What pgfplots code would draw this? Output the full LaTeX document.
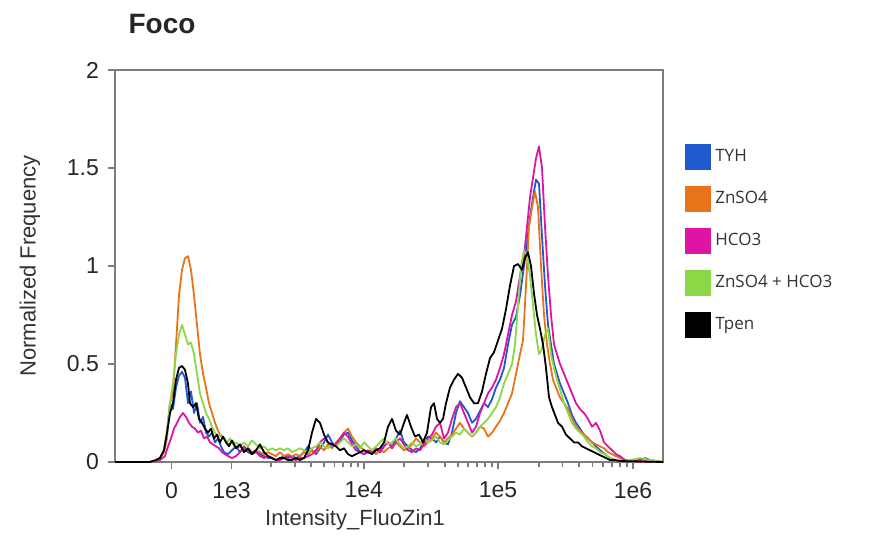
\documentclass[border=0pt]{standalone}
\usepackage{pgfplots}
\pgfplotsset{compat=1.18}
\usepackage{fontspec}
\setmainfont{Liberation Sans}
\newfontfamily\legfont{Open Sans}
\definecolor{cTYH}{RGB}{30,90,205}
\definecolor{cZn}{RGB}{232,115,25}
\definecolor{cHCO}{RGB}{222,20,165}
\definecolor{cGreen}{RGB}{140,215,70}
\definecolor{axgray}{RGB}{125,125,125}
\begin{document}
\begin{tikzpicture}
\useasboundingbox (0,0) rectangle (435pt,271pt);
\node[font=\fontsize{14}{16}\selectfont\bfseries, text=black!85] at (81pt,259pt) {Foco};
\begin{axis}[
  at={(57.5pt,40pt)}, anchor=south west,
  scale only axis, width=274pt, height=196pt,
  xmin=115, xmax=663, ymin=0, ymax=2,
  axis line style={axgray, line width=1pt},
  tick style={axgray, line width=0.9pt},
  tick align=outside,
  xtick pos=lower, ytick pos=left,
  major tick length=3.5pt, minor tick length=2.5pt,
  xtick={171.5,231.5,363.7,498,633},
  xticklabels={0,1e3,1e4,1e5,1e6},
  minor xtick={271.3,294.6,311.1,323.9,334.4,343.2,350.9,357.6,404.1,427.8,444.6,457.6,468.2,477.2,485.0,491.9,538.6,562.4,579.3,592.4,603.0,612.1,619.9,626.8},
  ytick={0,0.5,1,1.5,2},
  yticklabels={0,0.5,1,1.5,2},
  ticklabel style={font=\fontsize{11.5}{13}\selectfont, text=black!85},
  xticklabel style={yshift=-3pt},
  yticklabel style={xshift=-1pt},
  xlabel={Intensity\_FluoZin1},
  ylabel={Normalized Frequency},
  label style={font=\fontsize{11}{13}\selectfont, text=black!80},
  xlabel style={at={(axis description cs:0.438,-0.148)}, anchor=center},
  ylabel style={at={(axis description cs:-0.155,0.5)}, anchor=center},
  legend style={at={(axis description cs:1.04,0.812)}, anchor=north west, draw=none, fill=none,
    font=\legfont\fontsize{8.5}{10}\selectfont, text=black!80, row sep=8pt, inner sep=0pt},
  legend cell align=left,
  legend image code/.code={\fill[#1,draw=none] (0pt,-6.5pt) rectangle (13pt,6.5pt);},
  every axis plot/.append style={line width=0.9pt, line join=round},
]
% TYH
\addplot[color=cTYH] coordinates {
(115,0)(150,0)(156,0.01)(160,0.02)(164,0.06)(167,0.15)(170,0.3)(173,0.27)(176,0.38)(179,0.44)(182,0.46)(185,0.43)(188,0.3)(191,0.36)(194,0.25)(197,0.3)(200,0.2)(203,0.23)(206,0.15)(209,0.13)(212,0.15)(215,0.1)(218,0.12)(221,0.08)(224,0.05)(228,0.04)(232,0.06)(236,0.08)(240,0.05)(244,0.07)(248,0.05)(252,0.04)(256,0.06)(260,0.04)(264,0.03)(268,0.02)(272,0.02)(276,0.01)(280,0.02)(284,0.03)(288,0.02)(292,0.03)(296,0.02)(300,0.03)(304,0.05)(308,0.08)(312,0.06)(316,0.04)(320,0.07)(324,0.1)(328,0.14)(332,0.1)(336,0.08)(340,0.11)(344,0.14)(348,0.15)(352,0.11)(356,0.08)(360,0.05)(364,0.04)(368,0.05)(372,0.06)(376,0.07)(380,0.05)(384,0.08)(388,0.1)(392,0.08)(396,0.12)(400,0.16)(404,0.1)(408,0.08)(412,0.06)(416,0.05)(420,0.07)(424,0.1)(428,0.13)(432,0.12)(436,0.1)(440,0.13)(444,0.1)(448,0.09)(452,0.15)(456,0.25)(460,0.31)(464,0.28)(468,0.25)(472,0.2)(476,0.22)(480,0.26)(484,0.3)(488,0.28)(492,0.32)(496,0.38)(500,0.42)(504,0.48)(508,0.6)(512,0.7)(516,0.74)(520,0.85)(524,1.0)(527,1.12)(530,1.25)(533,1.35)(536,1.44)(539,1.42)(542,1.15)(545,0.9)(548,0.7)(551,0.6)(554,0.5)(557,0.45)(560,0.4)(564,0.35)(568,0.3)(572,0.24)(576,0.2)(580,0.17)(584,0.14)(588,0.12)(592,0.1)(596,0.08)(600,0.06)(605,0.04)(610,0.02)(615,0.01)(620,0.005)(640,0.01)(645,0.02)(650,0.01)(663,0)
};
\addlegendentry{TYH}
% ZnSO4
\addplot[color=cZn] coordinates {
(115,0)(150,0)(156,0.01)(160,0.02)(164,0.05)(167,0.12)(170,0.3)(173,0.35)(176,0.6)(179,0.85)(182,0.98)(185,1.04)(188,1.05)(191,0.98)(194,0.85)(197,0.7)(200,0.55)(203,0.45)(206,0.38)(209,0.3)(212,0.25)(215,0.2)(218,0.16)(221,0.13)(224,0.12)(228,0.09)(232,0.1)(236,0.07)(240,0.08)(244,0.06)(248,0.07)(252,0.05)(256,0.06)(260,0.05)(264,0.04)(268,0.05)(272,0.04)(276,0.03)(280,0.05)(284,0.03)(288,0.04)(292,0.03)(296,0.04)(300,0.03)(304,0.05)(308,0.04)(312,0.06)(316,0.05)(320,0.08)(324,0.06)(328,0.09)(332,0.07)(336,0.1)(340,0.12)(344,0.15)(348,0.17)(352,0.13)(356,0.1)(360,0.08)(364,0.06)(368,0.05)(372,0.06)(376,0.04)(380,0.06)(384,0.05)(388,0.07)(392,0.08)(396,0.1)(400,0.08)(404,0.06)(408,0.07)(412,0.09)(416,0.12)(420,0.1)(424,0.08)(428,0.1)(432,0.12)(436,0.15)(440,0.13)(444,0.1)(448,0.12)(452,0.14)(456,0.17)(460,0.2)(464,0.17)(468,0.15)(472,0.13)(476,0.15)(480,0.18)(484,0.17)(488,0.13)(492,0.15)(496,0.18)(500,0.21)(504,0.25)(508,0.3)(512,0.35)(516,0.45)(520,0.55)(523,0.62)(526,0.9)(529,1.2)(532,1.3)(535,1.38)(538,1.3)(541,1.0)(544,0.75)(547,0.6)(550,0.5)(553,0.42)(556,0.38)(560,0.33)(564,0.3)(568,0.27)(572,0.22)(576,0.18)(580,0.16)(584,0.14)(588,0.12)(592,0.1)(596,0.09)(600,0.08)(604,0.07)(608,0.05)(612,0.04)(616,0.03)(620,0.02)(625,0.01)(630,0.005)(663,0)
};
\addlegendentry{ZnSO4}
% HCO3
\addplot[color=cHCO] coordinates {
(115,0)(150,0)(160,0.01)(165,0.03)(168,0.08)(171,0.12)(174,0.17)(177,0.2)(180,0.23)(183,0.25)(186,0.23)(189,0.2)(192,0.18)(195,0.17)(198,0.15)(201,0.16)(204,0.12)(207,0.13)(210,0.1)(213,0.09)(216,0.08)(219,0.07)(222,0.05)(225,0.04)(228,0.03)(232,0.02)(236,0.03)(240,0.05)(244,0.08)(248,0.06)(252,0.04)(256,0.05)(260,0.03)(264,0.02)(268,0.03)(272,0.02)(276,0.01)(280,0.01)(284,0.02)(288,0.03)(292,0.02)(296,0.01)(300,0.02)(304,0.02)(308,0.03)(312,0.04)(316,0.06)(320,0.1)(324,0.12)(328,0.1)(332,0.08)(336,0.09)(340,0.12)(344,0.15)(348,0.13)(352,0.09)(356,0.06)(360,0.05)(364,0.04)(368,0.06)(372,0.05)(376,0.07)(380,0.05)(384,0.08)(388,0.1)(392,0.07)(396,0.1)(400,0.12)(404,0.09)(408,0.06)(412,0.05)(416,0.07)(420,0.06)(424,0.09)(428,0.12)(432,0.14)(436,0.18)(440,0.2)(444,0.12)(448,0.15)(452,0.22)(456,0.28)(460,0.3)(464,0.25)(468,0.2)(472,0.15)(476,0.18)(480,0.25)(484,0.3)(488,0.35)(492,0.38)(496,0.42)(500,0.48)(504,0.55)(508,0.65)(512,0.75)(516,0.82)(520,0.95)(524,1.05)(527,1.2)(530,1.35)(533,1.45)(536,1.55)(539,1.61)(542,1.5)(545,1.2)(548,0.95)(551,0.75)(554,0.6)(557,0.55)(560,0.5)(564,0.45)(568,0.4)(572,0.35)(576,0.3)(580,0.27)(584,0.25)(588,0.22)(592,0.18)(596,0.2)(600,0.16)(604,0.1)(608,0.08)(612,0.06)(616,0.04)(620,0.03)(625,0.01)(630,0.005)(663,0)
};
\addlegendentry{HCO3}
% ZnSO4 + HCO3
\addplot[color=cGreen] coordinates {
(115,0)(150,0)(156,0.01)(160,0.02)(164,0.06)(167,0.15)(170,0.3)(173,0.4)(176,0.55)(179,0.65)(182,0.7)(185,0.65)(188,0.6)(191,0.61)(194,0.55)(197,0.45)(200,0.35)(203,0.3)(206,0.25)(209,0.22)(212,0.18)(215,0.15)(218,0.13)(221,0.14)(224,0.12)(227,0.1)(230,0.12)(233,0.09)(236,0.1)(240,0.08)(244,0.1)(248,0.08)(252,0.11)(256,0.09)(260,0.07)(264,0.08)(268,0.06)(272,0.07)(276,0.06)(280,0.07)(284,0.06)(288,0.07)(292,0.05)(296,0.06)(300,0.07)(304,0.06)(308,0.05)(312,0.07)(316,0.08)(320,0.1)(324,0.08)(328,0.07)(332,0.09)(336,0.08)(340,0.1)(344,0.12)(348,0.1)(352,0.08)(356,0.09)(360,0.07)(364,0.1)(368,0.08)(372,0.06)(376,0.08)(380,0.1)(384,0.12)(388,0.09)(392,0.1)(396,0.12)(400,0.09)(404,0.07)(408,0.08)(412,0.1)(416,0.08)(420,0.09)(424,0.12)(428,0.1)(432,0.11)(436,0.13)(440,0.1)(444,0.09)(448,0.11)(452,0.13)(456,0.15)(460,0.14)(464,0.17)(468,0.15)(472,0.13)(476,0.15)(480,0.18)(484,0.2)(488,0.22)(492,0.25)(496,0.28)(500,0.33)(504,0.4)(508,0.45)(512,0.5)(515,0.6)(518,0.8)(521,1.0)(524,1.08)(527,1.05)(530,0.95)(533,0.8)(536,0.65)(539,0.55)(542,0.58)(545,0.65)(548,0.68)(551,0.55)(554,0.48)(557,0.42)(560,0.37)(564,0.3)(568,0.25)(572,0.2)(576,0.17)(580,0.15)(584,0.13)(588,0.1)(592,0.08)(596,0.07)(600,0.05)(605,0.04)(610,0.02)(615,0.01)(625,0.005)(640,0.02)(650,0.01)(663,0)
};
\addlegendentry{ZnSO4 + HCO3}
% Tpen
\addplot[color=black] coordinates {
(115,0)(150,0)(156,0.01)(160,0.02)(164,0.06)(167,0.15)(170,0.25)(173,0.3)(176,0.42)(179,0.48)(182,0.49)(185,0.47)(188,0.4)(190,0.3)(193,0.28)(196,0.3)(199,0.22)(202,0.2)(205,0.17)(208,0.15)(211,0.17)(214,0.12)(217,0.14)(220,0.1)(223,0.13)(226,0.1)(229,0.08)(232,0.11)(236,0.07)(240,0.09)(244,0.05)(248,0.07)(252,0.04)(256,0.06)(260,0.09)(264,0.05)(268,0.03)(272,0.02)(276,0.01)(280,0.02)(284,0.02)(288,0.01)(292,0.01)(296,0.02)(300,0.01)(304,0.02)(308,0.06)(312,0.15)(316,0.22)(320,0.2)(324,0.14)(328,0.1)(332,0.09)(336,0.08)(340,0.06)(344,0.07)(348,0.04)(352,0.03)(356,0.04)(360,0.05)(364,0.06)(368,0.05)(372,0.04)(376,0.06)(380,0.07)(384,0.1)(388,0.18)(392,0.22)(396,0.16)(400,0.14)(404,0.2)(407,0.24)(411,0.18)(415,0.13)(419,0.14)(423,0.1)(427,0.15)(431,0.28)(434,0.3)(437,0.22)(440,0.2)(443,0.22)(446,0.3)(450,0.38)(454,0.42)(458,0.45)(462,0.43)(466,0.38)(470,0.33)(474,0.3)(478,0.3)(482,0.36)(486,0.45)(490,0.53)(494,0.56)(498,0.62)(502,0.68)(506,0.78)(510,0.9)(514,1.0)(518,1.01)(522,0.98)(525,1.04)(528,1.07)(531,1.0)(534,0.86)(537,0.75)(540,0.68)(543,0.6)(546,0.48)(549,0.33)(552,0.28)(555,0.24)(558,0.2)(562,0.18)(566,0.14)(570,0.12)(574,0.1)(578,0.1)(582,0.08)(586,0.07)(590,0.06)(594,0.05)(598,0.04)(602,0.03)(606,0.02)(610,0.01)(615,0.01)(620,0.005)(663,0)
};
\addlegendentry{Tpen}
\end{axis}
\end{tikzpicture}
\end{document}
